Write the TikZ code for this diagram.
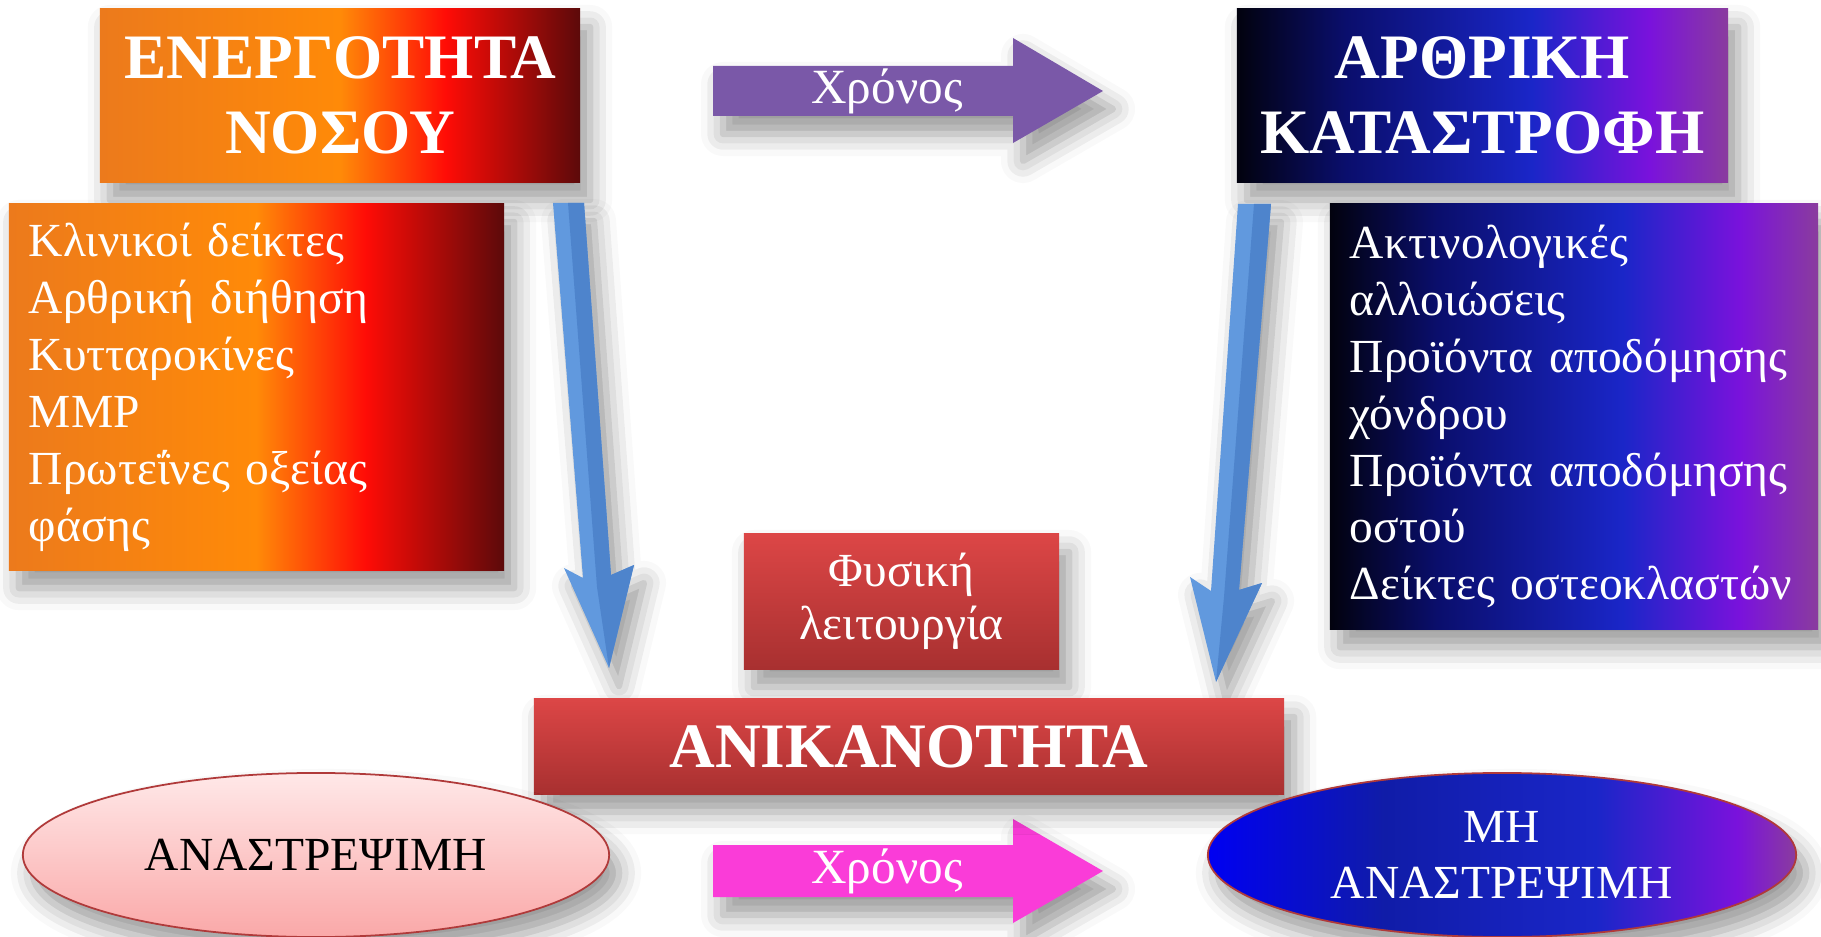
\documentclass[tikz,border=0pt]{standalone}
\usepackage{fontspec}
\setmainfont{Liberation Serif}
\usetikzlibrary{shapes.geometric,shadows.blur}

\definecolor{portokaliA}{HTML}{EC7A1C}
\definecolor{portokaliB}{HTML}{FF8A08}
\definecolor{kokkino}{HTML}{FF0C06}
\definecolor{kafe}{HTML}{5C0A0A}
\definecolor{mavro}{HTML}{02020E}
\definecolor{naviA}{HTML}{0A0E6C}
\definecolor{bleA}{HTML}{1A26C8}
\definecolor{mov}{HTML}{7A12DC}
\definecolor{movB}{HTML}{8A3C9E}
\definecolor{bleE}{HTML}{0000F2}
\definecolor{bleF}{HTML}{101CA8}
\definecolor{galazio}{HTML}{6199DE}
\definecolor{galazioS}{HTML}{4E84CC}
\definecolor{violeta}{HTML}{7A58A8}
\definecolor{fouxia}{HTML}{FA3CD8}
\definecolor{kokkinoA}{HTML}{DC4646}
\definecolor{kokkinoB}{HTML}{A83030}
\definecolor{rozA}{HTML}{FFE8E8}
\definecolor{rozB}{HTML}{FAA8A8}
\definecolor{perigramma}{HTML}{B03A3A}

\pgfdeclarehorizontalshading{fotia}{100bp}{color(0bp)=(portokaliA); color(25bp)=(portokaliA); color(50bp)=(portokaliB); color(61bp)=(kokkino); color(75bp)=(kafe); color(100bp)=(kafe)}
\pgfdeclarehorizontalshading{nychta}{100bp}{color(0bp)=(mavro); color(25bp)=(mavro); color(36bp)=(naviA); color(55bp)=(bleA); color(67bp)=(mov); color(75bp)=(movB); color(100bp)=(movB)}
\pgfdeclarehorizontalshading{thalassa}{100bp}{color(0bp)=(bleE); color(25bp)=(bleE); color(40bp)=(bleF); color(58bp)=(bleA); color(70bp)=(mov); color(75bp)=(movB); color(100bp)=(movB)}

\tikzset{
  skia/.style={blur shadow={shadow xshift=0.1cm, shadow yshift=-0.18cm, shadow blur radius=0.22cm, shadow opacity=40}},
  titlos/.style={skia, shade, inner sep=0pt, align=center, text=white, font=\fontsize{18}{21.4}\selectfont\bfseries},
  lista/.style={skia, shade, inner xsep=0.2cm, inner ysep=0pt, align=left, text=white, font=\fontsize{13.5}{16.2}\selectfont},
  kokkinokouti/.style={skia, top color=kokkinoA, bottom color=kokkinoB, inner sep=0pt, align=center, text=white},
  elleipsi/.style={ellipse, skia, draw=perigramma, line width=0.5pt, inner sep=0pt, align=center, font=\fontsize{13.5}{15.9}\selectfont},
  xronos/.style={inner sep=0pt, text=white, font=\fontsize{14}{16}\selectfont}
}

\begin{document}
\begin{tikzpicture}[x=0.01cm, y=-0.01cm]
\useasboundingbox (0,0) rectangle (1821,937);
%τίτλοι
\node[titlos, shading=fotia, minimum width=4.80cm, minimum height=1.73cm] (energ) at (340,95.5) {ΕΝΕΡΓΟΤΗΤΑ\\ΝΟΣΟΥ};
\node[titlos, shading=nychta, minimum width=4.91cm, minimum height=1.73cm] (arthr) at (1482.5,95.5) {ΑΡΘΡΙΚΗ\\ΚΑΤΑΣΤΡΟΦΗ};
%λίστες
\node[lista, shading=fotia, text width=4.55cm, minimum height=3.66cm] (deiktes) at (256.5,387) {Κλινικοί δείκτες\\Αρθρική διήθηση\\Κυτταροκίνες\\MMP\\Πρωτεΐνες οξείας\\φάσης};
\node[lista, shading=nychta, text width=4.48cm, minimum height=4.25cm] (proionta) at (1574,416.5) {Ακτινολογικές\\αλλοιώσεις\\Προϊόντα αποδόμησης\\χόνδρου\\Προϊόντα αποδόμησης\\οστού\\Δείκτες οστεοκλαστών};
%χρόνος
\fill[violeta, skia] (713,66) -- (1013,66) -- (1013,38) -- (1103,91) -- (1013,143) -- (1013,116) -- (713,116) -- cycle;
\node[xronos] (xr1) at (887,91) {Χρόνος};
\fill[fouxia, skia] (713,845) -- (1013,845) -- (1013,819) -- (1103,871) -- (1013,923) -- (1013,897) -- (713,897) -- cycle;
\node[xronos] (xr2) at (887,871) {Χρόνος};
%μπλε βέλη
\coordinate (a1) at (568,203);
\coordinate (a2) at (609,668);
\fill[galazio, skia] (553,203) -- (584,203) -- (611,575) -- (634,565) -- (a2) -- (564,568) -- (583,578) -- cycle;
\fill[galazioS] (a1) -- (584,203) -- (611,575) -- (634,565) -- (a2) -- (597,587) -- cycle;
\coordinate (b1) at (1254,204);
\coordinate (b2) at (1216,682);
\fill[galazio, skia] (1238,204) -- (1271,204) -- (1239,590) -- (1262,583) -- (b2) -- (1190,577) -- (1211,591) -- cycle;
\fill[galazioS] (b1) -- (1271,204) -- (1239,590) -- (1262,583) -- (b2) -- (1224,597) -- cycle;
%κόκκινα
\node[kokkinokouti, minimum width=3.15cm, minimum height=1.35cm, font=\fontsize{13.5}{15.1}\selectfont] (fysiki) at (901.5,601.5) {Φυσική\\λειτουργία};
\node[kokkinokouti, minimum width=7.50cm, minimum height=0.95cm, font=\fontsize{18}{21.4}\selectfont\bfseries] (anik) at (909,746.5) {ΑΝΙΚΑΝΟΤΗΤΑ};
%ελλείψεις
\node[elleipsi, top color=rozA, bottom color=rozB, text=black, minimum width=5.86cm, minimum height=1.64cm] (anastr) at (316,855) {ΑΝΑΣΤΡΕΨΙΜΗ};
\node[elleipsi, shade, shading=thalassa, text=white, minimum width=5.88cm, minimum height=1.64cm] (mhanastr) at (1502,855) {ΜΗ\\ΑΝΑΣΤΡΕΨΙΜΗ};
\end{tikzpicture}
\end{document}
